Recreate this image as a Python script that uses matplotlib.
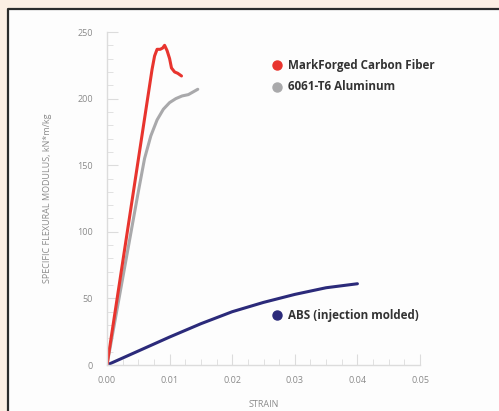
import numpy as np
import matplotlib.pyplot as plt
from matplotlib.patches import Rectangle
from matplotlib.lines import Line2D
from matplotlib.ticker import MultipleLocator

plt.rcParams['font.family'] = ['Open Sans', 'DejaVu Sans']

# data
cf_strain = [0, 0.0072, 0.0076, 0.0080, 0.0085, 0.0089, 0.0092, 0.0096, 0.0100, 0.0103, 0.0108, 0.0113, 0.0119]
cf_mod = [0, 222, 232, 237, 237, 238, 240, 236, 230, 223, 220, 219, 217]

al_strain = [0, 0.005, 0.006, 0.007, 0.008, 0.009, 0.010, 0.011, 0.012, 0.013, 0.0145]
al_mod = [0, 130, 155, 172, 184, 192, 197, 200, 202, 203, 207]

abs_strain = [0, 0.005, 0.010, 0.015, 0.020, 0.025, 0.030, 0.035, 0.040]
abs_mod = [0, 10.5, 21, 31, 40, 47, 53, 58, 61]

fig = plt.figure(figsize=(4.99, 4.11), dpi=100, facecolor='#fcefe4', edgecolor='none')
# white panel, border only on left and top
x0, y0 = 8/499, 1 - 9/411
fig.patches.append(Rectangle((x0, -0.1), 1.2, y0 + 0.1, transform=fig.transFigure,
                             facecolor='#fdfdfd', edgecolor='none', zorder=-5))
fig.lines.append(Line2D([x0, x0, 1.2], [-0.1, y0, y0], transform=fig.transFigure,
                        color='#2b2b2b', lw=1.6, zorder=-4))

ax = fig.add_axes([107/499, 1 - 365/411, 313/499, 333/411])
ax.set_zorder(2)
ax.set_facecolor('none')

ax.plot(abs_strain, abs_mod, color='#2b2a7a', lw=2.2, solid_capstyle='round')
ax.plot(al_strain, al_mod, color='#a9a9ab', lw=2.2, solid_capstyle='round')
ax.plot(cf_strain, cf_mod, color='#e8342e', lw=2.2, solid_capstyle='round')

ax.set_xlim(0, 0.05)
ax.set_ylim(0, 250)
ax.xaxis.set_major_locator(MultipleLocator(0.01))
ax.xaxis.set_minor_locator(MultipleLocator(0.0025))
ax.yaxis.set_major_locator(MultipleLocator(50))
ax.yaxis.set_minor_locator(MultipleLocator(10))
ax.xaxis.set_major_formatter(lambda v, p: f'{v:.2f}')

for s in ['top', 'right']:
    ax.spines[s].set_visible(False)
for s in ['left', 'bottom']:
    ax.spines[s].set_color('#dcdcdc')
    ax.spines[s].set_linewidth(1.0)

ax.tick_params(which='both', direction='in', colors='#dcdcdc', labelcolor='#8a8a8a', labelsize=6.5)
ax.tick_params(which='major', length=8)
ax.tick_params(which='minor', length=4)
ax.tick_params(axis='x', pad=8)
ax.tick_params(axis='y', pad=10)

ax.set_ylabel('SPECIFIC FLEXURAL MODULUS, kN*m/kg', fontsize=6.5, color='#8a8a8a', labelpad=18)
ax.set_xlabel('STRAIN', fontsize=6.5, color='#8a8a8a', labelpad=11)

# legend labels with dots
legend = [('MarkForged Carbon Fiber', '#e8342e', 0.0272, 225),
          ('6061-T6 Aluminum', '#a9a9ab', 0.0272, 209),
          ('ABS (injection molded)', '#2b2a7a', 0.0272, 37.5)]
for label, color, x, y in legend:
    ax.plot(x, y, 'o', color=color, ms=6.5, clip_on=False)
    ax.text(x + 0.0017, y, label, fontsize=8.4, fontweight='bold', color='#333333',
            va='center', ha='left', clip_on=False)

fig.savefig('out.png', dpi=100, facecolor=fig.get_facecolor())
